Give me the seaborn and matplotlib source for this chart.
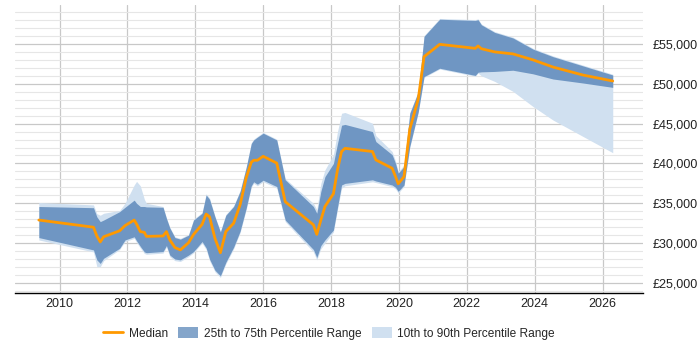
import pandas as pd
import matplotlib.pyplot as plt
import seaborn as sns
from matplotlib.patches import Patch
from matplotlib.lines import Line2D
from matplotlib.ticker import MultipleLocator, FuncFormatter

# decimal years of the sample points
years = [2009.39, 2011.0, 2011.1, 2011.2, 2011.3, 2011.77, 2011.93, 2012.2, 2012.27,
         2012.38, 2012.5, 2012.56, 2013.05, 2013.15, 2013.25, 2013.4, 2013.56, 2013.8,
         2013.95, 2014.2, 2014.32, 2014.42, 2014.58, 2014.74, 2014.9, 2015.13, 2015.32,
         2015.5, 2015.65, 2015.72, 2015.83, 2016.0, 2016.4, 2016.65, 2017.48, 2017.58,
         2017.7, 2017.82, 2018.07, 2018.19, 2018.31, 2018.41, 2019.22, 2019.32, 2019.8,
         2019.9, 2019.98, 2020.15, 2020.32, 2020.57, 2020.74, 2021.2, 2022.25, 2022.33,
         2022.43, 2022.82, 2023.36, 2023.95, 2024.54, 2025.42, 2026.3]

median = [32900, 32000, 30900, 30150, 30800, 31550, 32200, 32900, 32400,
          31450, 31350, 30850, 30900, 31450, 30400, 29450, 29150, 30050,
          31100, 32350, 33650, 33300, 30600, 28800, 31450, 32500, 34800,
          38200, 40150, 40400, 40400, 40900, 40050, 35200, 32300, 31100,
          32900, 34600, 36200, 39200, 41500, 41900, 41500, 40450, 39400,
          38350, 37450, 38350, 44300, 48100, 53400, 54950, 54450, 54750,
          54400, 54000, 53750, 53000, 52100, 51100, 50350]

p75 = [34600, 34450, 33300, 32700, 32900, 33950, 34500, 35400, 35000,
       34600, 34600, 34550, 34500, 33100, 31900, 30700, 30500, 31000,
       32900, 33750, 36050, 35500, 33300, 31400, 33500, 34600, 36500,
       39500, 42500, 42950, 43300, 43800, 42950, 37950, 34600, 33750,
       36500, 38350, 40000, 42500, 44800, 44900, 44000, 42750, 41100,
       40000, 38800, 39600, 46300, 49000, 55950, 58100, 57950, 58050,
       57400, 56450, 55750, 54350, 53400, 52250, 51100]

p25 = [30700, 29150, 27900, 27450, 28100, 29350, 30400, 30800, 30300,
       29600, 28900, 28800, 28950, 29700, 28500, 28000, 27900, 28500,
       28950, 30200, 29400, 28000, 26600, 25900, 27600, 29500, 31500,
       34400, 37200, 37700, 37400, 37900, 37100, 32900, 29200, 28200,
       29700, 30400, 31650, 34500, 37300, 37500, 37950, 37800, 37300,
       37000, 36500, 37300, 42150, 46500, 50900, 51950, 51050, 51450,
       51500, 51550, 51700, 51250, 50600, 50100, 49550]

p90 = [35100, 34800, 33700, 33500, 33750, 34100, 35000, 37300, 37750,
       37200, 35500, 35000, 34600, 33200, 32000, 30800, 30600, 31100,
       33000, 33850, 36200, 35650, 33400, 31500, 33600, 34700, 36600,
       39600, 42600, 43050, 43400, 43900, 43050, 38100, 35000, 34200,
       37500, 39200, 41100, 44000, 46300, 46400, 45050, 43500, 41500,
       40300, 39000, 39800, 46400, 49100, 56050, 58200, 58050, 58150,
       57500, 56550, 55850, 54450, 53500, 52350, 51200]

p10 = [30400, 28900, 27050, 27050, 27800, 29200, 30200, 30600, 30100,
       29400, 28700, 28600, 28750, 29500, 28300, 27800, 27700, 28300,
       28800, 30000, 29200, 27800, 26400, 25700, 27400, 29300, 31300,
       34200, 37000, 37500, 37200, 37700, 36900, 32700, 28900, 27900,
       29300, 30000, 31400, 34200, 36900, 37200, 37700, 37600, 37100,
       36800, 36300, 37100, 42000, 46400, 50800, 51850, 50950, 51350,
       51000, 50300, 49050, 47150, 45450, 43400, 41350]

x_ticks = [2010, 2012, 2014, 2016, 2018, 2020, 2022, 2024, 2026]

df = pd.DataFrame({"year": years, "median": median, "p25": p25, "p75": p75,
                   "p10": p10, "p90": p90})

sns.set_style("white")
plt.rcParams['font.family'] = ['Liberation Sans', 'DejaVu Sans']

fig = plt.figure(figsize=(7, 3.5), dpi=100)
ax = fig.add_axes([0.022, 0.163, 0.897, 0.823])

light = "#d0e0f0"
dark_base = "#1f5a9e"
orange = "#ff9900"

ax.fill_between(df["year"], df["p10"], df["p90"], color=light, linewidth=0, zorder=2)
ax.fill_between(df["year"], df["p25"], df["p75"], color=dark_base, alpha=0.55,
                linewidth=0, zorder=3)
sns.lineplot(data=df, x="year", y="median", color=orange, linewidth=2, ax=ax, zorder=4)

ax.set_xlim(2008.7, 2027.2)
ax.set_ylim(23750, 59900)
ax.set_xticks(x_ticks)
ax.yaxis.set_major_locator(MultipleLocator(5000))
ax.yaxis.set_minor_locator(MultipleLocator(1000))
ax.yaxis.set_major_formatter(FuncFormatter(lambda v, p: "£{:,.0f}".format(v)))
ax.yaxis.tick_right()
ax.grid(True, which="major", axis="both", color="#c8c8c8", linewidth=0.9, zorder=0)
ax.grid(True, which="minor", axis="y", color="#e6e6e6", linewidth=0.8, zorder=0)
ax.set_axisbelow(True)
ax.tick_params(axis="both", which="both", length=0, labelsize=9, colors="#222222")
ax.tick_params(axis="y", pad=7)
ax.set_xlabel("")
ax.set_ylabel("")
for side in ["top", "left", "right"]:
    ax.spines[side].set_visible(False)
ax.spines["bottom"].set_color("black")
ax.spines["bottom"].set_linewidth(1)

handles = [Line2D([0], [0], color=orange, linewidth=2),
           Patch(facecolor="#84a5ca", edgecolor="none"),
           Patch(facecolor=light, edgecolor="none")]
labels = ["Median", "25th to 75th Percentile Range", "10th to 90th Percentile Range"]
fig.legend(handles, labels, loc="center", bbox_to_anchor=(0.47, 0.047), ncol=3,
           frameon=False, fontsize=8.6, handlelength=1.7, handleheight=1.0,
           columnspacing=0.85, handletextpad=0.45)

fig.savefig("out.png", dpi=100)
